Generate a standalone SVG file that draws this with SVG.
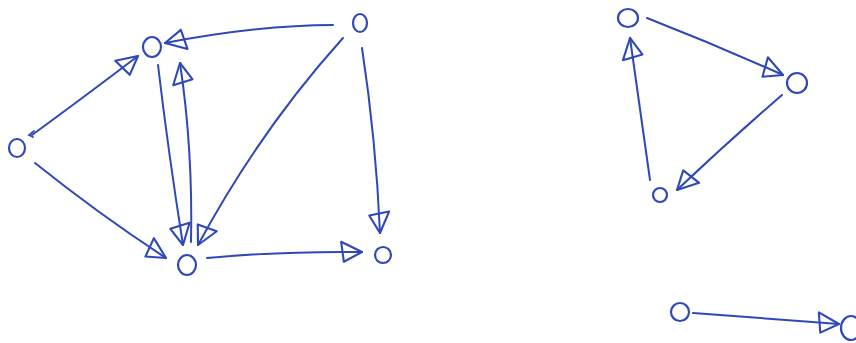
<svg xmlns="http://www.w3.org/2000/svg" width="856" height="343" viewBox="0 0 856 343">
<style>
.n{fill:none;stroke:#2f48b8;stroke-width:2.2}
.e{fill:none;stroke:#2f48b8;stroke-width:2;stroke-linecap:round;marker-end:url(#ah)}
.t{fill:none;stroke:#2f48b8;stroke-width:1.7;stroke-linecap:round}
</style>
<defs>
<marker id="ah" viewBox="-24 -12 26 24" refX="0" refY="0" markerWidth="26" markerHeight="24" markerUnits="userSpaceOnUse" orient="auto">
<path d="M0,0 L-21,-10 L-18,10 Z" fill="none" stroke="#2f48b8" stroke-width="2.1" stroke-linejoin="round"/>
</marker>
</defs>
<rect width="856" height="343" fill="#ffffff"/>
<g id="edges">
<path class="e" d="M32,135 Q80,100 138,56"/>
<path class="t" d="M34,131 L29,135 L33,137"/>
<path class="e" d="M35,163 Q100,215 166,258"/>
<path class="e" d="M158,65 Q168,150 183,245"/>
<path class="e" d="M191,242 Q193,150 180,63"/>
<path class="e" d="M333,25 Q260,25 165,43"/>
<path class="e" d="M343,38 Q260,130 198,245"/>
<path class="e" d="M362,48 Q376,140 380,233"/>
<path class="e" d="M207,258 Q280,251 362,252"/>
<path class="e" d="M647,18 Q716,45 783,75"/>
<path class="e" d="M782,95 Q730,140 677,190"/>
<path class="e" d="M650,180 Q640,110 630,38"/>
<path class="e" d="M693,313 Q760,318 839,324"/>
</g>
<g id="A"><ellipse class="n" cx="17" cy="148" rx="8" ry="9"/></g>
<g id="B"><ellipse class="n" cx="152" cy="47" rx="9" ry="10"/></g>
<g id="C"><ellipse class="n" cx="360" cy="23" rx="7" ry="9"/></g>
<g id="D"><ellipse class="n" cx="187" cy="265" rx="9" ry="10"/></g>
<g id="E"><ellipse class="n" cx="383" cy="255" rx="8" ry="8"/></g>
<g id="F"><ellipse class="n" cx="628" cy="18" rx="10" ry="9"/></g>
<g id="G"><ellipse class="n" cx="797" cy="83" rx="10" ry="10"/></g>
<g id="H"><ellipse class="n" cx="660" cy="195" rx="7" ry="7"/></g>
<g id="I"><ellipse class="n" cx="680" cy="312" rx="9" ry="9"/></g>
<g id="J"><ellipse class="n" cx="851" cy="328" rx="10" ry="12"/></g>
</svg>
